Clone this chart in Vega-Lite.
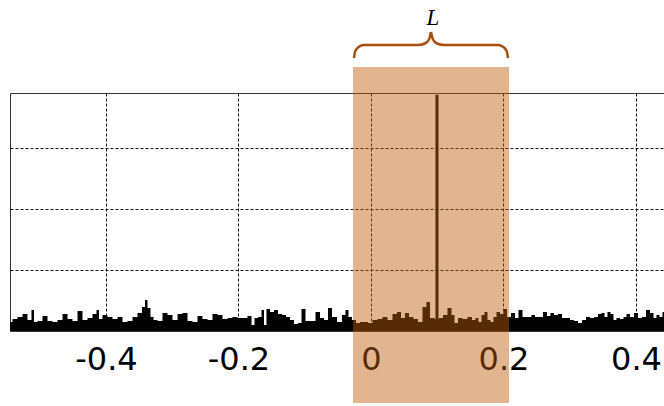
{
  "$schema": "https://vega.github.io/schema/vega-lite/v6.json",
  "autosize": "none",
  "width": 654,
  "height": 238,
  "padding": {"left": 10, "top": 93, "right": 0, "bottom": 75},
  "background": "white",
  "config": {"view": {"stroke": "#333", "strokeWidth": 1}},
  "datasets": {
    "noise": [
      {"x": -0.5449, "y": 0.148}, {"x": -0.5374, "y": 0.197}, {"x": -0.5298, "y": 0.230}, {"x": -0.5223, "y": 0.279}, {"x": -0.5147, "y": 0.180}, {"x": -0.5102, "y": 0.344}, {"x": -0.5072, "y": 0.148}, {"x": -0.4996, "y": 0.164}, {"x": -0.4921, "y": 0.246}, {"x": -0.4845, "y": 0.164}, {"x": -0.4770, "y": 0.148}, {"x": -0.4694, "y": 0.180}, {"x": -0.4619, "y": 0.279}, {"x": -0.4543, "y": 0.197}, {"x": -0.4468, "y": 0.164}, {"x": -0.4392, "y": 0.328}, {"x": -0.4317, "y": 0.180}, {"x": -0.4242, "y": 0.213}, {"x": -0.4166, "y": 0.279}, {"x": -0.4121, "y": 0.344}, {"x": -0.4091, "y": 0.197}, {"x": -0.4015, "y": 0.262}, {"x": -0.3940, "y": 0.230}, {"x": -0.3864, "y": 0.197},
      {"x": -0.3789, "y": 0.230}, {"x": -0.3713, "y": 0.148}, {"x": -0.3638, "y": 0.164}, {"x": -0.3562, "y": 0.230}, {"x": -0.3487, "y": 0.295}, {"x": -0.3426, "y": 0.393}, {"x": -0.3396, "y": 0.508}, {"x": -0.3351, "y": 0.377}, {"x": -0.3306, "y": 0.230}, {"x": -0.3260, "y": 0.180}, {"x": -0.3185, "y": 0.164}, {"x": -0.3109, "y": 0.295}, {"x": -0.3034, "y": 0.262}, {"x": -0.2958, "y": 0.180}, {"x": -0.2883, "y": 0.279}, {"x": -0.2808, "y": 0.295}, {"x": -0.2732, "y": 0.164}, {"x": -0.2657, "y": 0.148}, {"x": -0.2581, "y": 0.246}, {"x": -0.2506, "y": 0.197}, {"x": -0.2430, "y": 0.180}, {"x": -0.2355, "y": 0.279}, {"x": -0.2279, "y": 0.262}, {"x": -0.2204, "y": 0.197},
      {"x": -0.2128, "y": 0.213}, {"x": -0.2053, "y": 0.230}, {"x": -0.1977, "y": 0.213}, {"x": -0.1902, "y": 0.213}, {"x": -0.1826, "y": 0.246}, {"x": -0.1781, "y": 0.098}, {"x": -0.1736, "y": 0.213}, {"x": -0.1675, "y": 0.230}, {"x": -0.1630, "y": 0.344}, {"x": -0.1600, "y": 0.098}, {"x": -0.1555, "y": 0.361}, {"x": -0.1494, "y": 0.311}, {"x": -0.1434, "y": 0.344}, {"x": -0.1374, "y": 0.279}, {"x": -0.1313, "y": 0.262}, {"x": -0.1253, "y": 0.230}, {"x": -0.1192, "y": 0.180}, {"x": -0.1132, "y": 0.115}, {"x": -0.1072, "y": 0.131}, {"x": -0.1026, "y": 0.361}, {"x": -0.0951, "y": 0.164}, {"x": -0.0875, "y": 0.164}, {"x": -0.0800, "y": 0.311}, {"x": -0.0740, "y": 0.213}, {"x": -0.0679, "y": 0.180}, {"x": -0.0619, "y": 0.377}, {"x": -0.0558, "y": 0.230},
      {"x": -0.0468, "y": 0.148}, {"x": -0.0408, "y": 0.262}, {"x": -0.0362, "y": 0.344}, {"x": -0.0317, "y": 0.230}, {"x": -0.0257, "y": 0.180}, {"x": -0.0196, "y": 0.131}, {"x": -0.0136, "y": 0.148}, {"x": -0.0075, "y": 0.148}, {"x": -0.0015, "y": 0.131}, {"x": 0.0060, "y": 0.180}, {"x": 0.0136, "y": 0.197}, {"x": 0.0211, "y": 0.230}, {"x": 0.0287, "y": 0.180}, {"x": 0.0362, "y": 0.279}, {"x": 0.0423, "y": 0.311}, {"x": 0.0483, "y": 0.213}, {"x": 0.0543, "y": 0.295}, {"x": 0.0604, "y": 0.230}, {"x": 0.0679, "y": 0.197}, {"x": 0.0740, "y": 0.148}, {"x": 0.0815, "y": 0.393}, {"x": 0.0860, "y": 0.475}, {"x": 0.0921, "y": 0.213}, {"x": 0.0996, "y": 0.197}, {"x": 0.1057, "y": 0.213}, {"x": 0.1117, "y": 0.262},
      {"x": 0.1192, "y": 0.377}, {"x": 0.1238, "y": 0.262}, {"x": 0.1283, "y": 0.131}, {"x": 0.1343, "y": 0.213}, {"x": 0.1419, "y": 0.197}, {"x": 0.1494, "y": 0.230}, {"x": 0.1555, "y": 0.180}, {"x": 0.1600, "y": 0.213}, {"x": 0.1645, "y": 0.148}, {"x": 0.1691, "y": 0.262}, {"x": 0.1736, "y": 0.311}, {"x": 0.1781, "y": 0.180}, {"x": 0.1826, "y": 0.148}, {"x": 0.1872, "y": 0.230}, {"x": 0.1917, "y": 0.311}, {"x": 0.1977, "y": 0.279}, {"x": 0.2023, "y": 0.361}, {"x": 0.2083, "y": 0.230}, {"x": 0.2143, "y": 0.295}, {"x": 0.2204, "y": 0.213}, {"x": 0.2249, "y": 0.344}, {"x": 0.2325, "y": 0.230}, {"x": 0.2400, "y": 0.230}, {"x": 0.2445, "y": 0.262}, {"x": 0.2506, "y": 0.230}, {"x": 0.2566, "y": 0.230}, {"x": 0.2626, "y": 0.311}, {"x": 0.2687, "y": 0.246}, {"x": 0.2732, "y": 0.295}, {"x": 0.2792, "y": 0.262},
      {"x": 0.2853, "y": 0.279}, {"x": 0.2913, "y": 0.213}, {"x": 0.2974, "y": 0.213}, {"x": 0.3034, "y": 0.180}, {"x": 0.3094, "y": 0.164}, {"x": 0.3155, "y": 0.131}, {"x": 0.3215, "y": 0.180}, {"x": 0.3275, "y": 0.230}, {"x": 0.3336, "y": 0.213}, {"x": 0.3396, "y": 0.230}, {"x": 0.3457, "y": 0.279}, {"x": 0.3502, "y": 0.295}, {"x": 0.3547, "y": 0.230}, {"x": 0.3592, "y": 0.311}, {"x": 0.3638, "y": 0.279}, {"x": 0.3683, "y": 0.180}, {"x": 0.3728, "y": 0.213}, {"x": 0.3789, "y": 0.197}, {"x": 0.3834, "y": 0.230}, {"x": 0.3879, "y": 0.279}, {"x": 0.3940, "y": 0.230}, {"x": 0.4000, "y": 0.295}, {"x": 0.4060, "y": 0.213}, {"x": 0.4121, "y": 0.230}, {"x": 0.4181, "y": 0.344}, {"x": 0.4242, "y": 0.295}, {"x": 0.4287, "y": 0.213}, {"x": 0.4332, "y": 0.262}, {"x": 0.4377, "y": 0.230}, {"x": 0.4423, "y": 0.311}
    ],
    "brace": [
      {"half": "a", "x": -0.0257, "y": 4.473}, {"half": "a", "x": -0.0242, "y": 4.572}, {"half": "a", "x": -0.0211, "y": 4.629}, {"half": "a", "x": -0.0166, "y": 4.670}, {"half": "a", "x": -0.0106, "y": 4.686}, {"half": "a", "x": 0.0709, "y": 4.686}, {"half": "a", "x": 0.0815, "y": 4.711}, {"half": "a", "x": 0.0875, "y": 4.776}, {"half": "a", "x": 0.0906, "y": 4.899},
      {"half": "b", "x": 0.0906, "y": 4.899}, {"half": "b", "x": 0.0936, "y": 4.776}, {"half": "b", "x": 0.0996, "y": 4.711}, {"half": "b", "x": 0.1102, "y": 4.686}, {"half": "b", "x": 0.1917, "y": 4.686}, {"half": "b", "x": 0.1977, "y": 4.670}, {"half": "b", "x": 0.2023, "y": 4.629}, {"half": "b", "x": 0.2053, "y": 4.572}, {"half": "b", "x": 0.2068, "y": 4.473}
    ]
  },
  "layer": [
    {
      "data": {"name": "noise"},
      "mark": {"type": "area", "interpolate": "step", "color": "black"},
      "encoding": {
        "x": {"field": "x", "type": "quantitative",
          "scale": {"domain": [-0.5449, 0.4423], "nice": false, "zero": false},
          "axis": {"values": [-0.4, -0.2, 0, 0.2, 0.4], "title": null, "domain": false, "ticks": false,
            "labelFontSize": 32, "labelFont": "DejaVu Sans", "labelColor": "black", "labelPadding": 13,
            "labelFlush": false, "labelExpr": "replace(format(datum.value, '~g'), '\u2212', '-')",
            "grid": true, "gridColor": "#111", "gridDash": [3, 2], "gridWidth": 1, "gridOpacity": 1}},
        "y": {"field": "y", "type": "quantitative",
          "scale": {"domain": [0, 3.9], "nice": false},
          "axis": {"values": [1, 2, 3], "title": null, "labels": false, "ticks": false, "domain": false,
            "grid": true, "gridColor": "#111", "gridDash": [3, 2], "gridWidth": 1, "gridOpacity": 1}}
      }
    },
    {
      "data": {"values": [{"x": 0.0996, "y0": 0, "y1": 3.87}]},
      "mark": {"type": "rule", "color": "black", "strokeWidth": 3},
      "encoding": {
        "x": {"field": "x", "type": "quantitative"},
        "y": {"field": "y0", "type": "quantitative"},
        "y2": {"field": "y1"}
      }
    },
    {
      "data": {"values": [{"x0": -0.0272, "x1": 0.2083, "y0": -1.18, "y1": 4.326}]},
      "mark": {"type": "rect", "color": "#BD5D0B", "opacity": 0.46},
      "encoding": {
        "x": {"field": "x0", "type": "quantitative"},
        "x2": {"field": "x1"},
        "y": {"field": "y0", "type": "quantitative"},
        "y2": {"field": "y1"}
      }
    },
    {
      "data": {"name": "brace"},
      "mark": {"type": "line", "interpolate": "monotone", "color": "#A5500E", "strokeWidth": 2.5},
      "encoding": {
        "x": {"field": "x", "type": "quantitative"},
        "y": {"field": "y", "type": "quantitative"},
        "detail": {"field": "half"}
      }
    },
    {
      "data": {"values": [{"x": 0.0936, "y": 5.13, "t": "L"}]},
      "mark": {"type": "text", "font": "Liberation Serif", "fontStyle": "italic", "fontSize": 23, "color": "black", "baseline": "middle", "align": "center"},
      "encoding": {
        "x": {"field": "x", "type": "quantitative"},
        "y": {"field": "y", "type": "quantitative"},
        "text": {"field": "t"}
      }
    }
  ]
}
